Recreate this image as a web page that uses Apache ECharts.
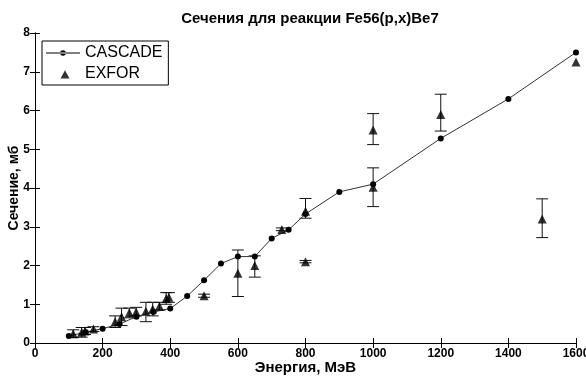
<!DOCTYPE html>
<html><head><meta charset="utf-8">
<script src="https://cdn.jsdelivr.net/npm/echarts@6/dist/echarts.min.js"></script>
<style>html,body{margin:0;padding:0;background:#fff}#c{width:586px;height:377px}</style>
</head><body><div id="c"></div>
<script>
const titleText = 'Сечения для реакции Fe56(p,x)Be7';
const xName = 'Энергия, МэВ';
const yName = 'Сечение, мб';
const cascadeE = [100, 150, 200, 250, 300, 350, 400, 450, 500, 550, 600, 650, 700, 750, 800, 900, 1000, 1200, 1400, 1600];
const cascadeV = [0.18, 0.28, 0.37, 0.49, 0.68, 0.80, 0.89, 1.21, 1.62, 2.05, 2.23, 2.23, 2.70, 2.92, 3.33, 3.90, 4.10, 5.28, 6.30, 7.50];
const exforE = [113, 138, 148, 173, 237, 256, 279, 299, 328, 348, 368, 388, 396, 500, 600, 650, 730, 800, 800, 1000, 1000, 1200, 1500, 1600];
const exforV = [0.24, 0.28, 0.31, 0.36, 0.55, 0.68, 0.78, 0.80, 0.82, 0.88, 0.95, 1.15, 1.18, 1.22, 1.80, 2.00, 2.93, 3.40, 2.10, 4.02, 5.50, 5.90, 3.20, 7.25];
const exforLo = [0.14, 0.15, 0.22, 0.30, 0.40, 0.45, 0.65, 0.70, 0.55, 0.70, 0.85, 1.00, 1.05, 1.18, 1.20, 1.70, 2.90, 3.22, 2.07, 3.52, 5.12, 5.47, 2.72, null];
const exforHi = [0.34, 0.40, 0.40, 0.42, 0.70, 0.90, 0.90, 0.92, 1.05, 1.05, 1.05, 1.30, 1.30, 1.26, 2.40, 2.25, 2.97, 3.73, 2.13, 4.52, 5.92, 6.42, 3.72, null];
const xTicks = [0, 200, 400, 600, 800, 1000, 1200, 1400, 1600];
const yTicks = [0, 1, 2, 3, 4, 5, 6, 7, 8];

const F = 'Liberation Sans, Arial, sans-serif';
const FN = 'Liberation Sans Narrow, Arial Narrow, Liberation Sans, sans-serif';
const chart = echarts.init(document.getElementById('c'));
const errData = exforE.map((e, i) => [e, exforLo[i], exforHi[i]]).filter(d => d[1] !== null);
const axisCommon = {
  axisLine: {show: true, lineStyle: {color: '#000', width: 1}},
  axisTick: {show: true, inside: true, length: 5, lineStyle: {color: '#000'}},
  splitLine: {show: false}
};
const iconLine = 'path://M0,0.01L0.01,0.01L0,0Z M34,12L33.99,12L34,11.99Z M0,5.5L34,5.5L34,6.4L0,6.4Z M14.2,6A2.8,2.8 0 1,0 19.8,6A2.8,2.8 0 1,0 14.2,6Z';
const iconTri = 'path://M0,0.01L0.01,0.01L0,0Z M34,12L33.99,12L34,11.99Z M14.5,10.5L23.5,10.5L19,2.3Z';
chart.setOption({
  animation: false,
  backgroundColor: '#fff',
  title: {text: titleText, left: 305, textAlign: 'center', top: 6,
    textStyle: {fontFamily: F, fontWeight: 'bold', fontSize: 15, color: '#000'}},
  grid: {left: 35, right: 10, top: 33, bottom: 34, containLabel: false, outerBoundsMode: 'none'},
  legend: {
    orient: 'vertical', left: 42, top: 41, padding: [4, 6, 3, 4], itemGap: 5,
    itemWidth: 34, itemHeight: 12, symbolKeepAspect: true,
    borderColor: '#000', borderWidth: 1, backgroundColor: '#fff',
    textStyle: {fontFamily: F, fontSize: 16, color: '#000'},
    data: [
      {name: 'CASCADE', icon: iconLine, itemStyle: {color: '#000', borderWidth: 0}},
      {name: 'EXFOR', icon: iconTri, itemStyle: {color: '#000', borderWidth: 0}}
    ]
  },
  xAxis: [
    Object.assign({type: 'value', min: 0, max: 1600, interval: 200, position: 'bottom',
      name: xName, nameLocation: 'middle', nameGap: 17, nameMoveOverlap: false,
      nameTextStyle: {fontFamily: F, fontWeight: 'bold', fontSize: 15, color: '#000'},
      axisLabel: {fontFamily: FN, fontWeight: 'bold', fontSize: 12, color: '#000', margin: 5,
        formatter: v => xTicks.includes(v) ? String(v) : ''}}, axisCommon),
    Object.assign({type: 'value', min: 0, max: 1600, interval: 200, position: 'top',
      axisLabel: {show: false}}, axisCommon)
  ],
  yAxis: [
    Object.assign({type: 'value', min: 0, max: 8, interval: 1, position: 'left',
      name: yName, nameLocation: 'middle', nameGap: 14, nameRotate: 90, nameMoveOverlap: false,
      nameTextStyle: {fontFamily: F, fontWeight: 'bold', fontSize: 14, color: '#000'},
      axisLabel: {fontFamily: FN, fontWeight: 'bold', fontSize: 12, color: '#000', margin: 5,
        formatter: v => yTicks.includes(v) ? String(v) : ''}}, axisCommon),
    Object.assign({type: 'value', min: 0, max: 8, interval: 1, position: 'right',
      axisLabel: {show: false}}, axisCommon)
  ],
  series: [
    {
      name: 'CASCADE', type: 'line', data: cascadeE.map((e, i) => [e, cascadeV[i]]),
      symbol: 'circle', symbolSize: 6, showSymbol: true,
      lineStyle: {color: '#333', width: 1},
      itemStyle: {color: '#000'}, z: 3
    },
    {
      name: 'EXFOR-err', type: 'custom', data: errData,
      renderItem: (params, api) => {
        const x = api.value(0), lo = api.value(1), hi = api.value(2);
        const a = api.coord([x, lo]), b = api.coord([x, hi]);
        const w = 6;
        const st = {stroke: '#111', lineWidth: 1};
        return {type: 'group', children: [
          {type: 'line', shape: {x1: a[0], y1: a[1], x2: b[0], y2: b[1]}, style: st},
          {type: 'line', shape: {x1: a[0] - w, y1: a[1], x2: a[0] + w, y2: a[1]}, style: st},
          {type: 'line', shape: {x1: b[0] - w, y1: b[1], x2: b[0] + w, y2: b[1]}, style: st}
        ]};
      },
      z: 2, silent: true
    },
    {
      name: 'EXFOR', type: 'scatter', data: exforE.map((e, i) => [e, exforV[i]]),
      symbol: 'triangle', symbolSize: 9, itemStyle: {color: '#000'}, z: 4
    }
  ]
});
</script></body></html>
